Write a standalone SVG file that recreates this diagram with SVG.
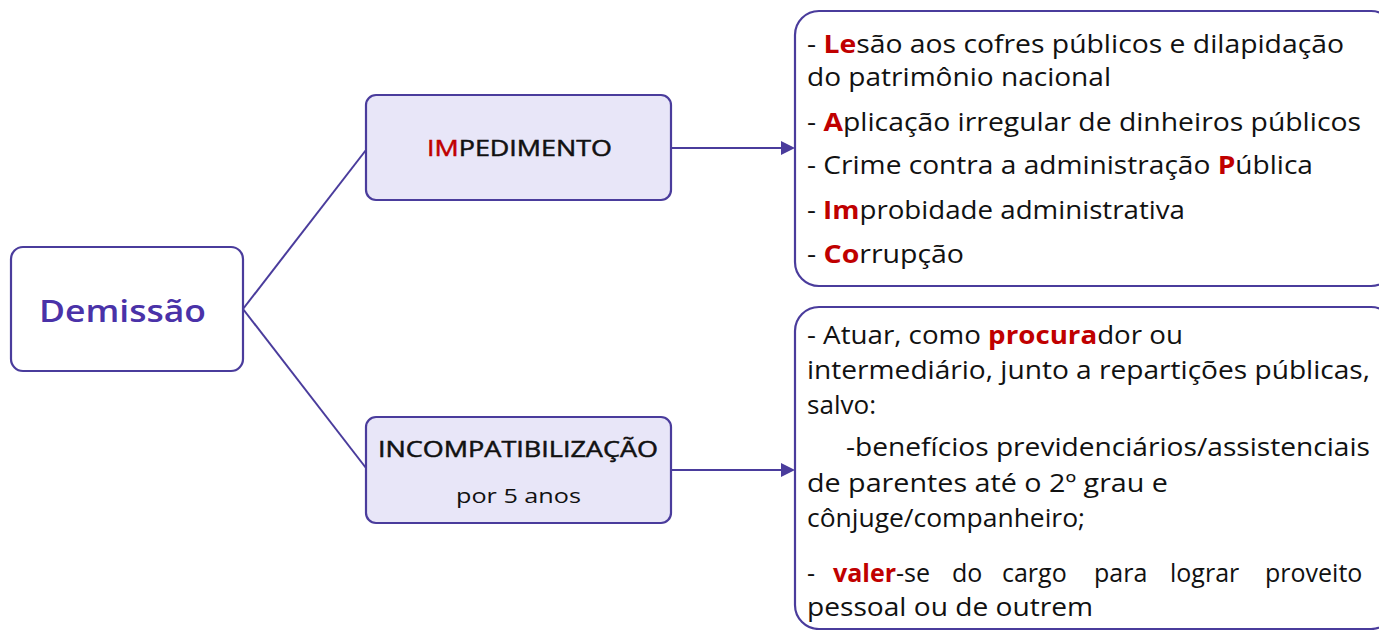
<svg xmlns="http://www.w3.org/2000/svg" width="1379" height="630" viewBox="0 0 1379 630">
<style>
.box{fill:#ffffff;stroke:#4a3c9c;stroke-width:2.2}
.sub{fill:#e8e6f8;stroke:#4a3c9c;stroke-width:2.2}
.t{font-family:"Open Sans","Liberation Sans",sans-serif;font-size:25px;fill:#111111}
.r{fill:#c00000;font-weight:700}
.h{font-family:"Open Sans","Liberation Sans",sans-serif;fill:#111111}
.m{stroke:#111111;stroke-width:0.5}
.c{fill:none;stroke:#4a3c9c;stroke-width:2}
.ah{fill:#4a3c9c}
</style>
<g id="connectors">
<line class="c" x1="243" y1="309" x2="366" y2="150"/>
<line class="c" x1="243" y1="309" x2="366" y2="468"/>
<line class="c" x1="671" y1="148" x2="782" y2="148"/>
<line class="c" x1="671" y1="470" x2="782" y2="470"/>
<path class="ah" d="M781,141 L795,148 L781,155 z"/>
<path class="ah" d="M781,463 L795,470 L781,477 z"/>
</g>
<g id="demissao">
<rect class="box" x="11" y="247" width="232" height="124" rx="12"/>
<text x="39" y="322" font-family="'Open Sans','Liberation Sans',sans-serif" font-size="30" font-weight="600" fill="#4a32a8" textLength="167" lengthAdjust="spacingAndGlyphs">Demissão</text>
</g>
<g id="impedimento">
<rect class="sub" x="366" y="95" width="305" height="105" rx="10"/>
<text class="h m" x="427" y="156" font-size="22" textLength="185" lengthAdjust="spacingAndGlyphs"><tspan fill="#c00000" stroke="#c00000">IM</tspan>PEDIMENTO</text>
</g>
<g id="incompatibilizacao">
<rect class="sub" x="366" y="417" width="305" height="106" rx="10"/>
<text class="h m" x="378" y="457" font-size="22" textLength="280" lengthAdjust="spacingAndGlyphs">INCOMPATIBILIZAÇÃO</text>
<text class="h" x="456" y="503" font-size="20" textLength="125" lengthAdjust="spacingAndGlyphs">por 5 anos</text>
</g>
<g id="impedimento-list">
<rect class="box" x="795" y="11" width="600" height="275" rx="24"/>
<text class="t" x="807" y="53" textLength="537" lengthAdjust="spacingAndGlyphs">- <tspan class="r">Le</tspan>são aos cofres públicos e dilapidação</text>
<text class="t" x="807" y="86" textLength="304" lengthAdjust="spacingAndGlyphs">do patrimônio nacional</text>
<text class="t" x="807" y="131" textLength="554" lengthAdjust="spacingAndGlyphs">- <tspan class="r">A</tspan>plicação irregular de dinheiros públicos</text>
<text class="t" x="807" y="174" textLength="506" lengthAdjust="spacingAndGlyphs">- Crime contra a administração <tspan class="r">P</tspan>ública</text>
<text class="t" x="807" y="219" textLength="378" lengthAdjust="spacingAndGlyphs">- <tspan class="r">Im</tspan>probidade administrativa</text>
<text class="t" x="807" y="263" textLength="157" lengthAdjust="spacingAndGlyphs">- <tspan class="r">Co</tspan>rrupção</text>
</g>
<g id="incompat-list">
<rect class="box" x="795" y="307" width="600" height="322" rx="24"/>
<text class="t" x="807" y="344" textLength="376" lengthAdjust="spacingAndGlyphs">- Atuar, como <tspan class="r">procura</tspan>dor ou</text>
<text class="t" x="807" y="379" textLength="563" lengthAdjust="spacingAndGlyphs">intermediário, junto a repartições públicas,</text>
<text class="t" x="807" y="414" textLength="69" lengthAdjust="spacingAndGlyphs">salvo:</text>
<text class="t" x="846" y="456" textLength="524" lengthAdjust="spacingAndGlyphs">-benefícios previdenciários/assistenciais</text>
<text class="t" x="807" y="492" textLength="361" lengthAdjust="spacingAndGlyphs">de parentes até o 2º grau e</text>
<text class="t" x="807" y="527" textLength="278" lengthAdjust="spacingAndGlyphs">cônjuge/companheiro;</text>
<text class="t" y="582"><tspan x="807">-</tspan> <tspan x="833" class="r">valer</tspan>-se <tspan x="952">do</tspan> <tspan x="1002">cargo</tspan> <tspan x="1094">para</tspan> <tspan x="1170">lograr</tspan> <tspan x="1265">proveito</tspan></text>
<text class="t" x="807" y="616" textLength="286" lengthAdjust="spacingAndGlyphs">pessoal ou de outrem</text>
</g>
</svg>
